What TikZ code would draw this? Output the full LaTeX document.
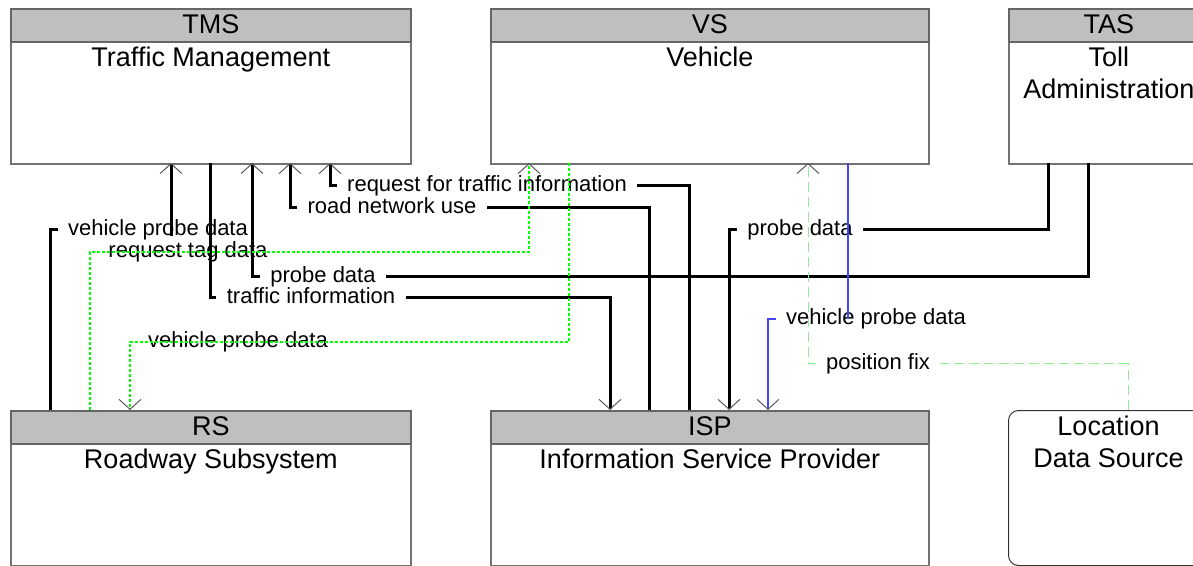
\documentclass[tikz,border=0pt]{standalone}
\usepackage{fontspec}
\setmainfont{Liberation Sans}
\usetikzlibrary{arrows.meta}

\tikzset{
  sysbox/.style={draw=black!55, line width=0.8pt, anchor=north west, minimum height=77.5pt, inner sep=0pt},
  syshead/.style={draw=black!60, line width=0.8pt, fill=black!25, anchor=north west, minimum height=16.5pt, inner sep=0pt},
  locbox/.style={draw=black!80, line width=0.5pt, rounded corners=5pt, anchor=north west, minimum width=100pt, minimum height=77.5pt, inner sep=0pt},
  headtext/.style={font=\fontsize{13.5}{15}\selectfont, anchor=north, inner sep=0pt},
  titletext/.style={font=\fontsize{13.5}{16}\selectfont, anchor=north, inner sep=0pt, align=center},
  flowlabel/.style={font=\fontsize{11}{13}\selectfont, text height=8pt, text depth=2.3pt, inner ysep=0pt, inner xsep=5pt},
  flow/.style={line width=1.5pt, black},
  gflow/.style={line width=0.65pt, draw={rgb,255:red,0;green,255;blue,0}, dash pattern=on 1.5pt off 1pt},
  pflow/.style={line width=0.5pt, draw={rgb,255:red,140;green,240;blue,140}, dash pattern=on 5pt off 2.5pt},
  bflow/.style={line width=0.7pt, draw={rgb,255:red,70;green,70;blue,255}}
}

\begin{document}
\begin{tikzpicture}[x=0.5pt, y=-0.5pt,
  >={Straight Barb[length=5pt, width=11pt, line width=0.5pt, color=black!65]}]
\useasboundingbox (0,0) rectangle (1193,566);

% Subsystems
\foreach \n/\x/\y/\w/\s/\l in {tms/10/8/200/TMS/Traffic Management, vs/490/8/219/VS/Vehicle,
    tas/1008/8/100/TAS/Toll\\Administration, rs/10/410/200/RS/Roadway Subsystem,
    isp/490/410/219/ISP/Information Service Provider} {
  \node[sysbox, minimum width=\w pt] (\n) at (\x,\y) {};
  \node[syshead, minimum width=\w pt] (\n-head) at (\x,\y) {};
  \node[headtext] (\n-abbr) at ([yshift=-3.2pt]\n.north) {\s};
  \node[titletext] (\n-name) at ([yshift=-19.5pt]\n.north) {\l};
}

% Terminator
\node[locbox] (loc) at (1008,410) {};
\node[titletext] (loc-name) at ([yshift=-3pt]loc.north) {Location\\Data Source};

% Ports on the box edges
\foreach \n/\x in {t1/171, t2/210, t3/252, t4/290, t5/330, v1/529, v2/569, v3/808, v4/848, a1/1048, a2/1088}
  \coordinate (\n) at (\x,163);
\foreach \n/\x in {r1/50, r2/90, r3/130, i1/610, i2/649, i3/689, i4/729, i5/768, l1/1128}
  \coordinate (\n) at (\x,410);

% Flow labels
\node[flowlabel] (lrfti) at (487,186) {request for traffic information};
\node[flowlabel] (lrnu) at (392,208) {road network use};
\node[flowlabel] (lvpda) at (158,230) {vehicle probe data};
\node[flowlabel] (lprbb) at (800,230) {probe data};
\node[flowlabel] (ltag) at (188,252) {request tag data};
\node[flowlabel] (lprba) at (323,277) {probe data};
\node[flowlabel] (ltrf) at (311,298) {traffic information};
\node[flowlabel] (lvpdb) at (876,319) {vehicle probe data};
\node[flowlabel] (lvpdc) at (238,342) {vehicle probe data};
\node[flowlabel] (lpos) at (878,364) {position fix};

% Flows into TMS
\draw[flow] (r1) |- (lvpda.west);
\draw[flow, ->] (lvpda.base -| t1) -- (t1);
\draw[flow] (a2) |- (lprba.east);
\draw[flow, ->] (lprba.west) -| (t3);
\draw[flow] (i2) |- (lrnu.east);
\draw[flow, ->] (lrnu.west) -| (t4);
\draw[flow] (i3) |- (lrfti.east);
\draw[flow, ->] (lrfti.west) -| (t5);

% Flows into ISP
\draw[flow] (t2) |- (ltrf.west);
\draw[flow, ->] (ltrf.east) -| (i1);
\draw[flow] (a1) |- (lprbb.east);
\draw[flow, ->] (lprbb.west) -| (i4);
\draw[bflow] (v4) -- (v4 |- lvpdb);
\draw[bflow, ->] (lvpdb.west) -| (i5);

% Flows between RS and VS
\draw[gflow, ->] (r2) |- (v1 |- ltag) -- (v1);
\draw[gflow, ->] (v2) |- (r3 |- lvpdc) -- (r3);

% Position fix
\draw[pflow] (l1) |- (lpos.east);
\draw[pflow, ->] (lpos.west) -| (v3);
\end{tikzpicture}
\end{document}
